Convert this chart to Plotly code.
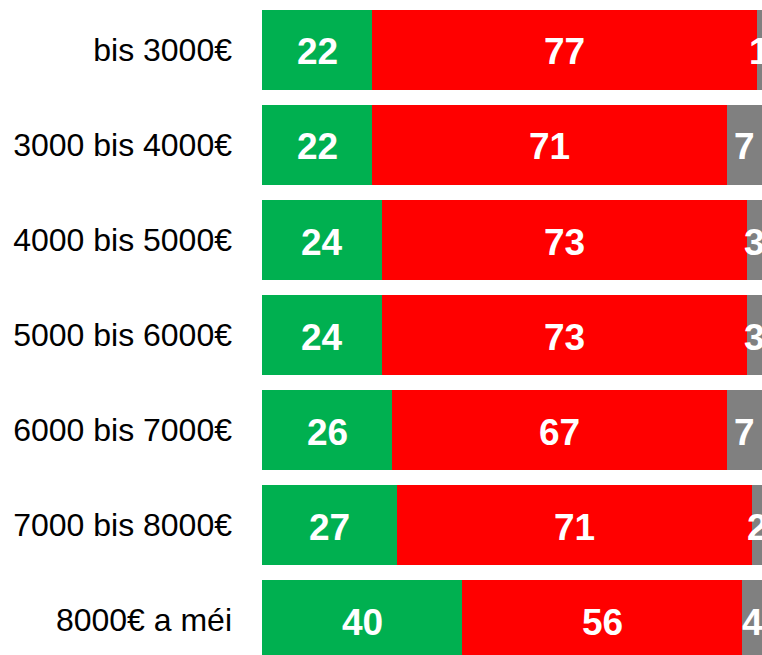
import plotly.graph_objects as go

categories = ["bis 3000€", "3000 bis 4000€", "4000 bis 5000€", "5000 bis 6000€",
              "6000 bis 7000€", "7000 bis 8000€", "8000€ a méi"]
green_vals = [22, 22, 24, 24, 26, 27, 40]
red_vals = [77, 71, 73, 73, 67, 71, 56]
gray_vals = [1, 7, 3, 3, 7, 2, 4]

series = [("Jo", green_vals, "#00B050"), ("Nee", red_vals, "#FF0000"), ("Weess net", gray_vals, "#808080")]

FONT = "Liberation Sans, Arial, sans-serif"
fig = go.Figure()
base = [0] * len(categories)
annotations = []
for name, vals, col in series:
    fig.add_trace(go.Bar(y=categories, x=vals, orientation="h", name=name,
                         marker=dict(color=col, line=dict(width=0)),
                         hoverinfo="skip"))
    for cat, b, v in zip(categories, base, vals):
        annotations.append(dict(x=b + v / 2, y=cat, xref="x", yref="y", text=str(v),
                                showarrow=False, xanchor="center", yanchor="middle", yshift=-2,
                                font=dict(family=FONT, size=37, color="white", weight="bold")))
    base = [b + v for b, v in zip(base, vals)]

fig.update_layout(
    barmode="stack", bargap=15 / 95,
    width=762, height=655,
    margin=dict(l=262, r=0, t=0, b=0),
    plot_bgcolor="white", paper_bgcolor="white",
    showlegend=False,
    annotations=annotations,
    font=dict(family=FONT, color="black"),
    xaxis=dict(range=[0, 100], visible=False, showgrid=False, zeroline=False, fixedrange=True),
    yaxis=dict(type="category", categoryorder="array", categoryarray=categories,
               range=[6.368, -0.526], showgrid=False, zeroline=False, showline=False,
               ticks="", ticklabelstandoff=29, tickfont=dict(size=32, color="black", family=FONT)),
)
fig.write_html("out.html",
               config={"displayModeBar": False, "staticPlot": True},
               post_script="document.body.style.margin='0';document.body.style.overflow='hidden';")
